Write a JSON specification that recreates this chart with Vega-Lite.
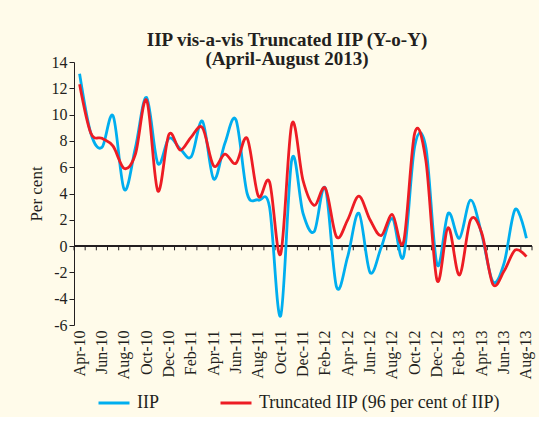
{
  "$schema": "https://vega.github.io/schema/vega-lite/v6.json",
  "width": 458,
  "height": 263,
  "padding": {"left": 27, "top": 31, "right": 5, "bottom": 5},
  "background": "#fffbea",
  "config": {
    "view": {"stroke": null},
    "axisY": {
      "labelOverlap": false,
      "labelFont": "Liberation Serif",
      "labelFontSize": 16,
      "labelColor": "#231f20",
      "labelPadding": 2,
      "tickSize": 5,
      "tickColor": "#231f20",
      "domainColor": "#231f20",
      "grid": false,
      "titleFont": "Liberation Serif",
      "titleFontSize": 17,
      "titleFontWeight": "normal",
      "titleColor": "#231f20",
      "titlePadding": 6
    }
  },
  "title": {
    "text": "IIP vis-a-vis Truncated IIP (Y-o-Y)",
    "subtitle": "(April-August 2013)",
    "font": "Liberation Serif",
    "subtitleFont": "Liberation Serif",
    "fontSize": 19,
    "subtitleFontSize": 19,
    "fontWeight": "bold",
    "subtitleFontWeight": "bold",
    "color": "#231f20",
    "subtitleColor": "#231f20",
    "subtitlePadding": 0,
    "offset": -15,
    "anchor": "middle",
    "dx": -16
  },
  "data": {
    "values": [
      {"month": "Apr-10", "series": "IIP", "value": 13.1},
      {"month": "May-10", "series": "IIP", "value": 8.6},
      {"month": "Jun-10", "series": "IIP", "value": 7.5},
      {"month": "Jul-10", "series": "IIP", "value": 9.9},
      {"month": "Aug-10", "series": "IIP", "value": 4.3},
      {"month": "Sep-10", "series": "IIP", "value": 7.5},
      {"month": "Oct-10", "series": "IIP", "value": 11.3},
      {"month": "Nov-10", "series": "IIP", "value": 6.3},
      {"month": "Dec-10", "series": "IIP", "value": 8.2},
      {"month": "Jan-11", "series": "IIP", "value": 7.4},
      {"month": "Feb-11", "series": "IIP", "value": 6.8},
      {"month": "Mar-11", "series": "IIP", "value": 9.5},
      {"month": "Apr-11", "series": "IIP", "value": 5.1},
      {"month": "May-11", "series": "IIP", "value": 7.8},
      {"month": "Jun-11", "series": "IIP", "value": 9.6},
      {"month": "Jul-11", "series": "IIP", "value": 4.0},
      {"month": "Aug-11", "series": "IIP", "value": 3.5},
      {"month": "Sep-11", "series": "IIP", "value": 3.0},
      {"month": "Oct-11", "series": "IIP", "value": -5.3},
      {"month": "Nov-11", "series": "IIP", "value": 6.6},
      {"month": "Dec-11", "series": "IIP", "value": 2.5},
      {"month": "Jan-12", "series": "IIP", "value": 1.1},
      {"month": "Feb-12", "series": "IIP", "value": 4.4},
      {"month": "Mar-12", "series": "IIP", "value": -3.1},
      {"month": "Apr-12", "series": "IIP", "value": -0.8},
      {"month": "May-12", "series": "IIP", "value": 2.5},
      {"month": "Jun-12", "series": "IIP", "value": -2.0},
      {"month": "Jul-12", "series": "IIP", "value": -0.1},
      {"month": "Aug-12", "series": "IIP", "value": 2.1},
      {"month": "Sep-12", "series": "IIP", "value": -0.8},
      {"month": "Oct-12", "series": "IIP", "value": 7.6},
      {"month": "Nov-12", "series": "IIP", "value": 7.5},
      {"month": "Dec-12", "series": "IIP", "value": -1.4},
      {"month": "Jan-13", "series": "IIP", "value": 2.5},
      {"month": "Feb-13", "series": "IIP", "value": 0.6},
      {"month": "Mar-13", "series": "IIP", "value": 3.5},
      {"month": "Apr-13", "series": "IIP", "value": 0.9},
      {"month": "May-13", "series": "IIP", "value": -2.7},
      {"month": "Jun-13", "series": "IIP", "value": -1.3},
      {"month": "Jul-13", "series": "IIP", "value": 2.8},
      {"month": "Aug-13", "series": "IIP", "value": 0.6},
      {"month": "Apr-10", "series": "Truncated", "value": 12.3},
      {"month": "May-10", "series": "Truncated", "value": 8.6},
      {"month": "Jun-10", "series": "Truncated", "value": 8.2},
      {"month": "Jul-10", "series": "Truncated", "value": 7.6},
      {"month": "Aug-10", "series": "Truncated", "value": 5.9},
      {"month": "Sep-10", "series": "Truncated", "value": 7.0},
      {"month": "Oct-10", "series": "Truncated", "value": 11.1},
      {"month": "Nov-10", "series": "Truncated", "value": 4.2},
      {"month": "Dec-10", "series": "Truncated", "value": 8.5},
      {"month": "Jan-11", "series": "Truncated", "value": 7.3},
      {"month": "Feb-11", "series": "Truncated", "value": 8.3},
      {"month": "Mar-11", "series": "Truncated", "value": 9.0},
      {"month": "Apr-11", "series": "Truncated", "value": 6.1},
      {"month": "May-11", "series": "Truncated", "value": 7.0},
      {"month": "Jun-11", "series": "Truncated", "value": 6.3},
      {"month": "Jul-11", "series": "Truncated", "value": 8.2},
      {"month": "Aug-11", "series": "Truncated", "value": 3.8},
      {"month": "Sep-11", "series": "Truncated", "value": 4.9},
      {"month": "Oct-11", "series": "Truncated", "value": -0.6},
      {"month": "Nov-11", "series": "Truncated", "value": 9.3},
      {"month": "Dec-11", "series": "Truncated", "value": 5.0},
      {"month": "Jan-12", "series": "Truncated", "value": 3.1},
      {"month": "Feb-12", "series": "Truncated", "value": 4.4},
      {"month": "Mar-12", "series": "Truncated", "value": 0.7},
      {"month": "Apr-12", "series": "Truncated", "value": 2.0},
      {"month": "May-12", "series": "Truncated", "value": 3.8},
      {"month": "Jun-12", "series": "Truncated", "value": 2.0},
      {"month": "Jul-12", "series": "Truncated", "value": 0.8},
      {"month": "Aug-12", "series": "Truncated", "value": 2.4},
      {"month": "Sep-12", "series": "Truncated", "value": 0.3},
      {"month": "Oct-12", "series": "Truncated", "value": 8.6},
      {"month": "Nov-12", "series": "Truncated", "value": 6.5},
      {"month": "Dec-12", "series": "Truncated", "value": -2.6},
      {"month": "Jan-13", "series": "Truncated", "value": 1.4},
      {"month": "Feb-13", "series": "Truncated", "value": -2.2},
      {"month": "Mar-13", "series": "Truncated", "value": 2.0},
      {"month": "Apr-13", "series": "Truncated", "value": 1.0},
      {"month": "May-13", "series": "Truncated", "value": -2.9},
      {"month": "Jun-13", "series": "Truncated", "value": -1.9},
      {"month": "Jul-13", "series": "Truncated", "value": -0.3},
      {"month": "Aug-13", "series": "Truncated", "value": -0.8}
    ]
  },
  "encoding": {
    "x": {
      "field": "month",
      "type": "ordinal",
      "sort": null,
      "scale": {"type": "band", "paddingInner": 0, "paddingOuter": 0},
      "axis": {
        "title": null,
        "domain": false,
        "ticks": false,
        "labelAngle": -90,
        "labelPadding": 5,
        "labelFont": "Liberation Serif",
        "labelFontSize": 16,
        "labelColor": "#231f20",
        "labelExpr": "indexof(['Apr','Jun','Aug','Oct','Dec','Feb'], slice(datum.value, 0, 3)) >= 0 ? datum.value : ''"
      }
    }
  },
  "layer": [
    {
      "mark": {"type": "rule", "color": "#231f20", "strokeWidth": 1.2},
      "encoding": {
        "x": null,
        "y": {
          "datum": 0,
          "type": "quantitative",
          "scale": {"domain": [-6, 14], "nice": false},
          "axis": {
            "title": "Per cent",
            "values": [-6, -4, -2, 0, 2, 4, 6, 8, 10, 12, 14],
            "labelOverlap": false,
            "labelExpr": "'' + datum.value"
          }
        }
      }
    },
    {
      "transform": [{"filter": "datum.series == 'IIP'"}],
      "mark": {"type": "rule", "color": "#231f20", "strokeWidth": 1},
      "encoding": {
        "x": {"field": "month", "type": "ordinal", "sort": null, "bandPosition": 0},
        "y": {
          "datum": 0,
          "type": "quantitative",
          "axis": {
            "title": "Per cent",
            "values": [-6, -4, -2, 0, 2, 4, 6, 8, 10, 12, 14],
            "labelOverlap": false,
            "labelExpr": "'' + datum.value"
          }
        },
        "y2": {"datum": -0.32}
      }
    },
    {
      "transform": [{"filter": "datum.series == 'IIP' && datum.month == 'Aug-13'"}],
      "mark": {"type": "rule", "color": "#231f20", "strokeWidth": 1},
      "encoding": {
        "x": {"field": "month", "type": "ordinal", "sort": null, "bandPosition": 1},
        "y": {
          "datum": 0,
          "type": "quantitative",
          "axis": {
            "title": "Per cent",
            "values": [-6, -4, -2, 0, 2, 4, 6, 8, 10, 12, 14],
            "labelOverlap": false,
            "labelExpr": "'' + datum.value"
          }
        },
        "y2": {"datum": -0.32}
      }
    },
    {
      "mark": {"type": "line", "interpolate": "cardinal", "strokeWidth": 2.8},
      "encoding": {
        "y": {
          "field": "value",
          "type": "quantitative",
          "scale": {"domain": [-6, 14], "nice": false},
          "axis": {
            "title": "Per cent",
            "values": [-6, -4, -2, 0, 2, 4, 6, 8, 10, 12, 14],
            "labelOverlap": false,
            "labelExpr": "'' + datum.value"
          }
        },
        "color": {
          "field": "series",
          "type": "nominal",
          "scale": {"domain": ["IIP", "Truncated"], "range": ["#00aeef", "#ed1c24"]},
          "legend": {
            "title": null,
            "orient": "none",
            "legendX": 23,
            "legendY": 324,
            "direction": "horizontal",
            "symbolType": "stroke",
            "symbolSize": 961,
            "symbolStrokeWidth": 3,
            "labelFont": "Liberation Serif",
            "labelFontSize": 18,
            "labelLimit": 400,
            "labelColor": "#231f20",
            "labelOffset": 6,
            "columnPadding": 55,
            "labelExpr": "datum.value == 'Truncated' ? 'Truncated IIP (96 per cent of IIP)' : datum.value"
          }
        }
      }
    }
  ]
}
